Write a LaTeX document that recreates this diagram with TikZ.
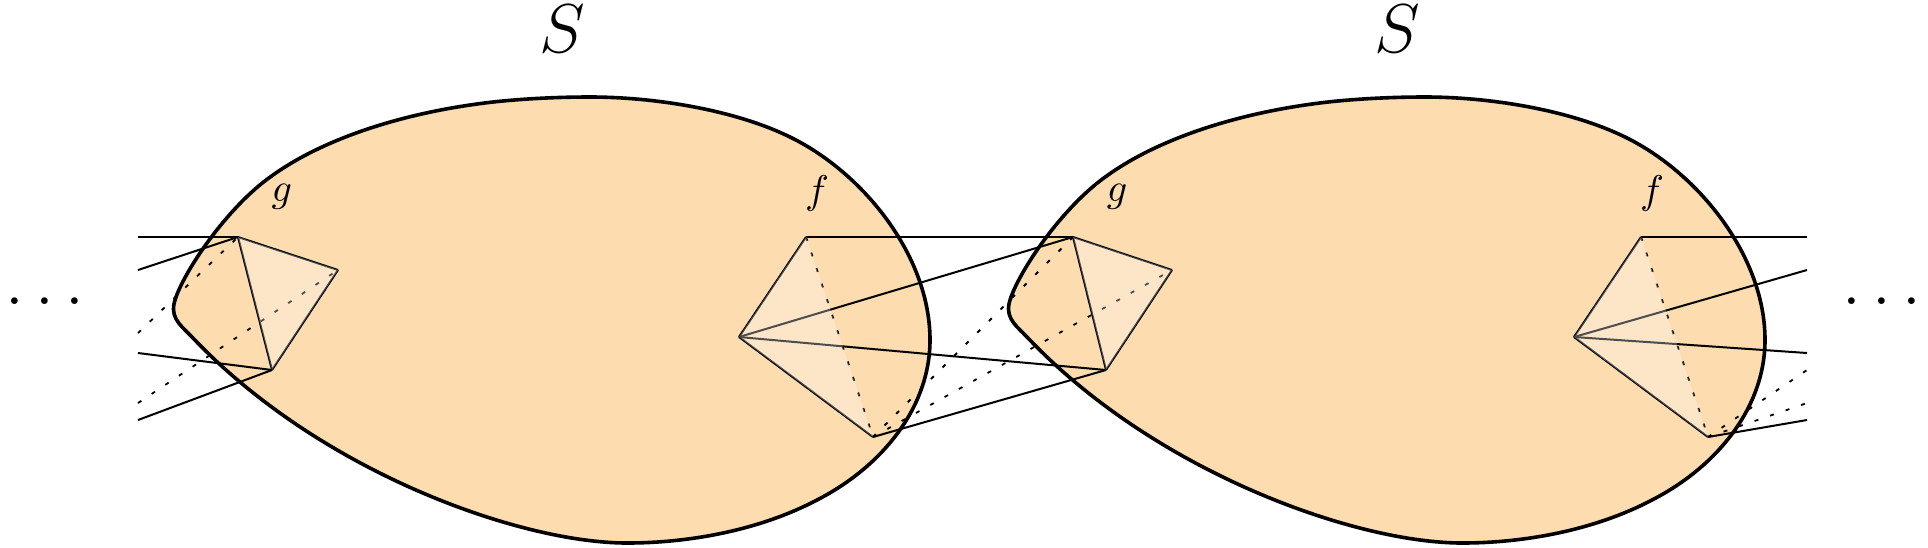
\documentclass[tikz,border=0pt]{standalone}
\definecolor{blobfill}{RGB}{253,220,176}
\newcommand{\blobpath}{(174,304) .. controls (179,279) and (225,208) .. (273,175)
    .. controls (325,138) and (405,112) .. (493,102)
    .. controls (525,98.5) and (560,97) .. (590,97)
    .. controls (655,97) and (735,110) .. (790,137)
    .. controls (862,172) and (930,255) .. (930,340)
    .. controls (930,405) and (885,465) .. (817,500)
    .. controls (760,530) and (690,543) .. (627,543)
    .. controls (520,543) and (320,472) .. (192,337)
    .. controls (182,326.5) and (171,319) .. (174,304) -- cycle}
\tikzset{
  blob/.style={draw, fill=blobfill, line width=0.9pt},
  edge/.style={line width=0.5pt},
  hidden/.style={line width=0.45pt, dash pattern=on 1pt off 3.1pt},
  face/.style={fill=white, fill opacity=0.3}
}
\begin{document}
\begin{tikzpicture}[x=0.25pt, y=-0.25pt]
    \useasboundingbox (0,0) rectangle (1928,547);
    \draw[blob] \blobpath;
    \draw[blob, shift={(835,0)}] \blobpath;
    \node (s1) at (562,29) {\LARGE $S$};
    \node (s2) at (1397,29) {\LARGE $S$};
    \node (g1) at (282,197) {$g$};
    \node (f1) at (817,193) {$f$};
    \node (g2) at (1117,197) {$g$};
    \node (f2) at (1652,193) {$f$};
    \node (dl) [anchor=base] at (45,304) {\LARGE $\ldots$};
    \node (dr) [anchor=base] at (1882,304) {\LARGE $\ldots$};
    % vertices
    \coordinate (g1t) at (238,237);
    \coordinate (g1r) at (338,270);
    \coordinate (g1b) at (272,370);
    \coordinate (f1t) at (806,237);
    \coordinate (f1l) at (739,337);
    \coordinate (f1b) at (873,437);
    \coordinate (g2t) at (1073,237);
    \coordinate (g2r) at (1172,270);
    \coordinate (g2b) at (1106,370);
    \coordinate (f2t) at (1641,237);
    \coordinate (f2l) at (1574,337);
    \coordinate (f2b) at (1708,437);
    % loose ends
    \coordinate (la) at (138,237);
    \coordinate (lb) at (138,270);
    \coordinate (lc) at (138,333);
    \coordinate (ld) at (138,353);
    \coordinate (le) at (138,403);
    \coordinate (lf) at (138,420);
    \coordinate (ra) at (1807,237);
    \coordinate (rb) at (1807,270);
    \coordinate (rc) at (1807,353);
    \coordinate (rd) at (1807,370);
    \coordinate (re) at (1807,403);
    \coordinate (rf) at (1807,420);
    % left stubs
    \draw[edge] (la) -- (g1t);
    \draw[edge] (lb) -- (g1t);
    \draw[hidden] (lc) -- (g1t);
    \draw[edge] (ld) -- (g1b);
    \draw[hidden] (le) -- (g1r);
    \draw[edge] (lf) -- (g1b);
    % first g
    \draw[edge] (g1t) -- (g1r);
    \draw[edge] (g1r) -- (g1b);
    \draw[edge] (g1t) -- (g1b);
    % first f to second g
    \draw[edge] (f1t) -- (f1l);
    \draw[edge] (f1l) -- (f1b);
    \draw[hidden] (f1t) -- (f1b);
    \draw[edge] (f1t) -- (g2t);
    \draw[edge] (f1l) -- (g2t);
    \draw[edge] (f1l) -- (g2b);
    \draw[edge] (f1b) -- (g2b);
    \draw[hidden] (f1b) -- (g2t);
    \draw[hidden] (f1b) -- (g2r);
    % second g
    \draw[edge] (g2t) -- (g2r);
    \draw[edge] (g2r) -- (g2b);
    \draw[edge] (g2t) -- (g2b);
    % second f and right stubs
    \draw[edge] (f2t) -- (f2l);
    \draw[edge] (f2l) -- (f2b);
    \draw[hidden] (f2t) -- (f2b);
    \draw[edge] (f2t) -- (ra);
    \draw[edge] (f2l) -- (rb);
    \draw[edge] (f2l) -- (rc);
    \draw[hidden] (f2b) -- (rd);
    \draw[hidden] (f2b) -- (re);
    \draw[edge] (f2b) -- (rf);
    % light faces
    \fill[face] (g1t) -- (g1r) -- (g1b) -- cycle;
    \fill[face] (f1t) -- (f1l) -- (f1b) -- cycle;
    \fill[face] (g2t) -- (g2r) -- (g2b) -- cycle;
    \fill[face] (f2t) -- (f2l) -- (f2b) -- cycle;
\end{tikzpicture}
\end{document}
